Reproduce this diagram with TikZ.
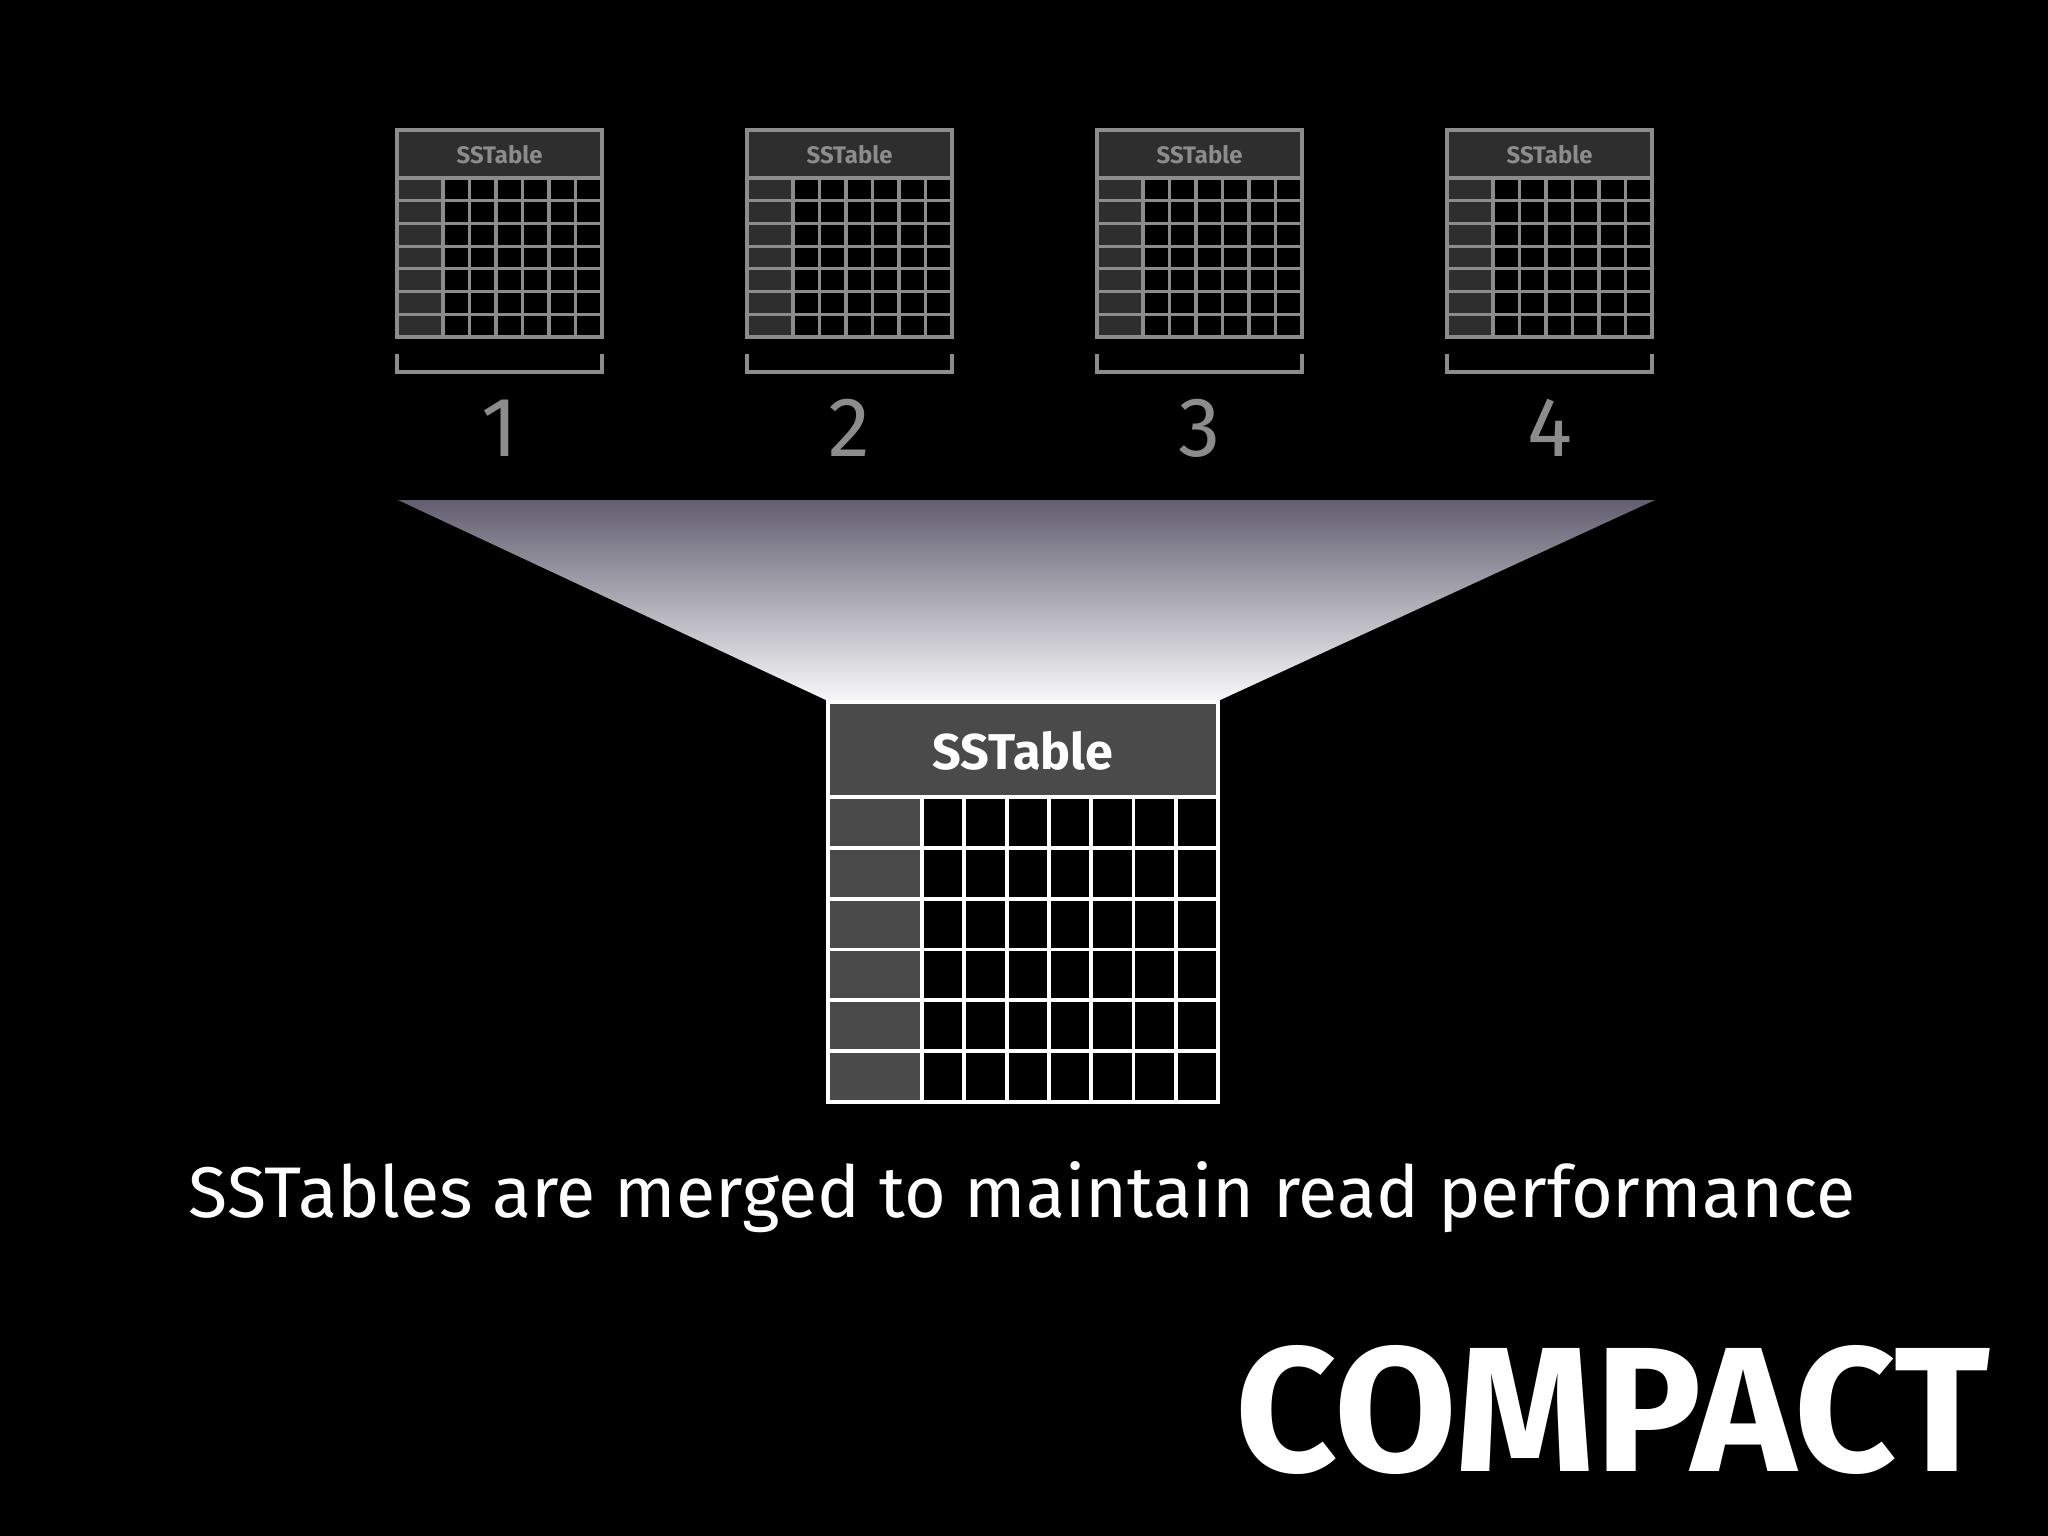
\documentclass[tikz,border=0pt]{standalone}
\usepackage{fontspec}
\setmainfont{Fira Sans}
\usetikzlibrary{calc}

\definecolor{tablegray}{HTML}{8C8C8C}
\definecolor{smallfill}{HTML}{2E2E2E}
\definecolor{bigfill}{HTML}{4A4A4A}
\definecolor{conetop}{HTML}{625E70}
\definecolor{conebottom}{HTML}{F8F8FA}

\tikzset{
    smallline/.style={tablegray,line width=0.9pt},
    bigline/.style={white,line width=1.1pt},
    smalltitle/.style={text=tablegray,font=\fontsize{6.8}{8}\selectfont\bfseries},
    bigtitle/.style={text=white,font=\fontsize{14.3}{17}\selectfont\bfseries},
    numlabel/.style={text=tablegray,font=\fontsize{24}{28}\selectfont},
}

% small sstable: name, left edge, number
\newcommand{\smallsstable}[3]{%
    \fill[smallfill] (#2,130) rectangle ++(205,48);
    \fill[smallfill] (#2,178) rectangle ++(46,159);
    \foreach \r in {0,...,6}
        \draw[smallline] (#2,178+\r*22.71) -- ++(205,0);
    \foreach \c in {0,...,5}
        \draw[smallline] (#2+46+\c*26.5,178) -- ++(0,159);
    \draw[smallline] (#2,130) rectangle ++(205,207);
    \node[smalltitle] (#1) at (#2+102.5,155) {SSTable};
    \draw[smallline] (#2,354) -- (#2,372) -- (#2+205,372) -- (#2+205,354);
    \node[numlabel] (#1-num) at (#2+102.5,428) {#3};
}

\begin{document}
\begin{tikzpicture}[x=0.01cm,y=-0.01cm]

% background
\fill[black] (0,0) rectangle (2048,1536);
\useasboundingbox (0,0) rectangle (2048,1536);

% four sstables on top
\smallsstable{t1}{397}{1}
\smallsstable{t2}{747}{2}
\smallsstable{t3}{1097}{3}
\smallsstable{t4}{1447}{4}

% merge funnel
\shade[top color=conetop,bottom color=conebottom]
    (398,500) -- (1655,500) -- (1218,701) -- (828,701) -- cycle;

% merged sstable
\fill[bigfill] (828,702) rectangle (1218,797);
\fill[bigfill] (828,797) rectangle (922,1102);
\fill[black] (922,797) rectangle (1218,1102);
\foreach \r in {0,...,5}
    \draw[bigline] (828,797+\r*50.83) -- (1218,797+\r*50.83);
\foreach \c in {0,...,6}
    \draw[bigline] (922+\c*42.29,797) -- (922+\c*42.29,1102);
\draw[bigline] (828,702) rectangle (1218,1102);
\node[bigtitle] (merged) at (1023,751) {SSTable};

% labels
\node[text=white,font=\fontsize{20.4}{25}\selectfont] (caption) at (1022,1197)
    {SSTables are merged to maintain read performance};
\node[text=white,font=\fontsize{50.5}{60}\selectfont\bfseries] (title) at (1613,1410)
    {COMPACT};

\end{tikzpicture}
\end{document}
